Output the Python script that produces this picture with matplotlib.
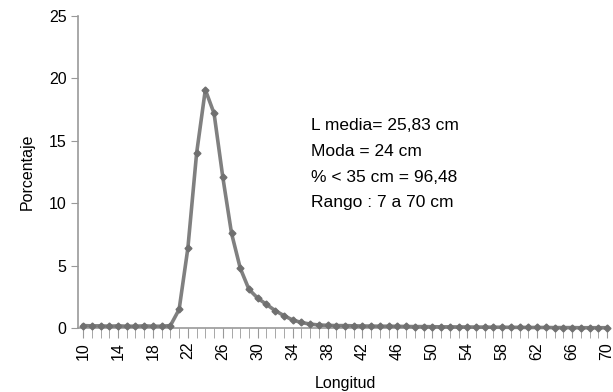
import matplotlib
matplotlib.use("Agg")
import matplotlib.pyplot as plt
from matplotlib.ticker import MultipleLocator

plt.rcParams['font.family'] = ['Liberation Sans', 'DejaVu Sans']

# Length classes (cm) and percentage per class
longitud = list(range(10, 71))
porcentaje = [
    0.20, 0.18, 0.18, 0.15, 0.18, 0.15, 0.15, 0.18, 0.15, 0.15, 0.20,   # 10-20
    1.5, 6.4, 14.0, 19.1, 17.2, 12.1, 7.6, 4.8, 3.1, 2.4,                 # 21-30
    1.9, 1.4, 1.0, 0.65, 0.45, 0.32, 0.25, 0.22, 0.20, 0.20,              # 31-40
    0.18, 0.17, 0.16, 0.15, 0.15, 0.14, 0.13, 0.12, 0.12, 0.11,           # 41-50
    0.10, 0.10, 0.09, 0.09, 0.08, 0.08, 0.07, 0.07, 0.06, 0.06,           # 51-60
    0.05, 0.05, 0.05, 0.04, 0.04, 0.04, 0.03, 0.03, 0.03, 0.03,           # 61-70
]
y_ticks = [0, 5, 10, 15, 20, 25]
x_ticks = list(range(10, 71, 4))
stats = ["L media= 25,83 cm", "Moda = 24 cm", "% < 35 cm = 96,48", "Rango : 7 a 70 cm"]

gray = "#808080"
fig = plt.figure(figsize=(6.13, 3.92), dpi=100)
ax = fig.add_axes([0.127, 0.163, 0.866, 0.796])

ax.plot(longitud, porcentaje, color=gray, linewidth=2.6, marker="D", markersize=3.5,
        markerfacecolor="#707070", markeredgecolor="#707070", clip_on=False, zorder=3)

ax.set_xlim(9.4, 70.2)
ax.set_ylim(0, 25)
ax.set_yticks(y_ticks)
ax.set_xticks(x_ticks)
ax.xaxis.set_minor_locator(MultipleLocator(1))
ax.tick_params(axis="x", which="both", direction="out", length=7, color="#999999", rotation=90,
               labelsize=11.5, pad=3)
ax.tick_params(axis="y", direction="out", length=5, color="#999999", labelsize=11.5, pad=3)

for side in ["top", "right"]:
    ax.spines[side].set_visible(False)
for side in ["left", "bottom"]:
    ax.spines[side].set_color("#999999")
    ax.spines[side].set_linewidth(1.2)

ax.set_ylabel("Porcentaje", fontsize=11.5, labelpad=10)
fig.text(0.563, 0.022, "Longitud", ha="center", va="center", fontsize=11.5)

for i, line in enumerate(stats):
    ax.text(0.44, 0.65 - i * 0.083, line, transform=ax.transAxes, fontsize=12.5,
            va="center", ha="left")

fig.savefig("out.png", dpi=100)
